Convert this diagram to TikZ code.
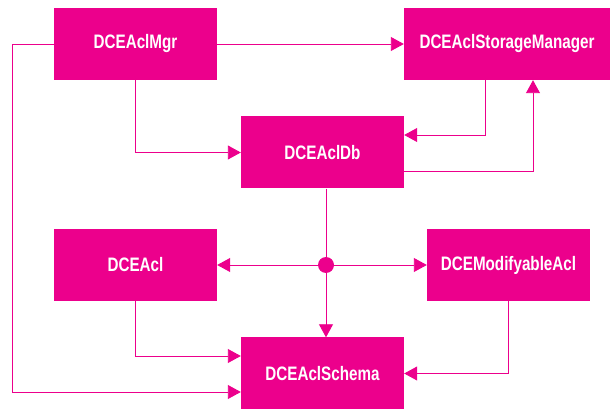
\documentclass[tikz,border=0pt]{standalone}
\usepackage{fontspec}
\setmainfont{Liberation Sans}[FakeStretch=0.78]
\usetikzlibrary{arrows.meta}
\definecolor{magenta}{HTML}{EC008C}

\begin{document}
\begin{tikzpicture}[x=1pt, y=1pt,
    cls/.style={fill=magenta, text=white, font=\fontsize{19.5}{22}\bfseries\selectfont,
        minimum width=163pt, minimum height=72pt, inner sep=0pt},
    link/.style={draw=magenta, line width=0.9pt, -{Triangle[length=13pt, width=14pt]}}]
\useasboundingbox (0,0) rectangle (611,410);
% Draw classes
\node[cls] (mgr) at (135.5,366) {DCEAclMgr};
\node[cls, minimum width=206pt] (store) at (507,366) {DCEAclStorageManager};
\node[cls] (db) at (322.5,257.5) {DCEAclDb};
\node[cls] (acl) at (135.5,145) {DCEAcl};
\node[cls] (modacl) at (508.5,145) {DCEModifyableAcl};
\node[cls] (schema) at (322.5,36.5) {DCEAclSchema};
% Draw junction
\coordinate (join) at (326,145);
\fill[magenta] (join) circle (8pt);
\coordinate (left) at (12,366);
% Draw links
\draw[link] (mgr.east) -- (store.west);
\draw[link] (mgr.west) -- (left) |- ([yshift=-18.5pt]schema.west);
\draw[link] (mgr.south) |- (db.west);
\draw[link] ([xshift=-22pt]store.south) |- ([yshift=17.5pt]db.east);
\draw[link] ([yshift=-18.5pt]db.east) -| ([xshift=26pt]store.south);
\draw[link] (db.south -| join) -- (schema.north -| join);
\draw[link] (join) -- (acl.east);
\draw[link] (join) -- (modacl.west);
\draw[link] (acl.south) |- ([yshift=17.5pt]schema.west);
\draw[link] (modacl.south) |- (schema.east);
\end{tikzpicture}
\end{document}
